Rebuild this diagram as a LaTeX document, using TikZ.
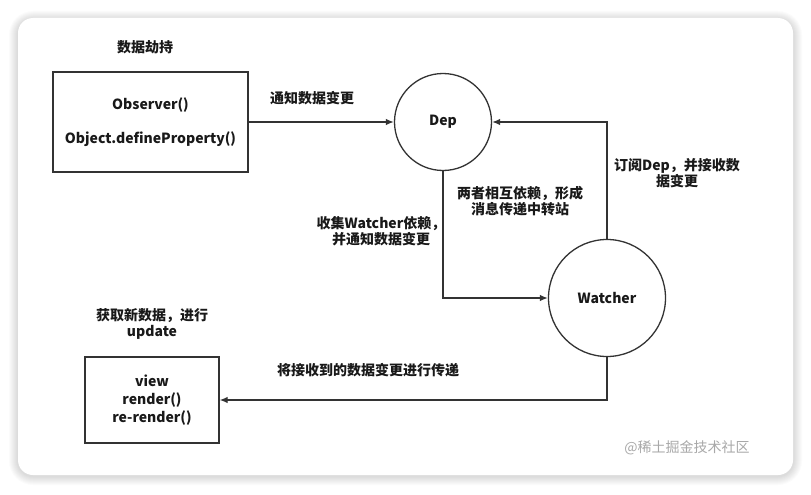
\documentclass[tikz,border=0pt]{standalone}
\usepackage{fontspec}
\setmainfont{Noto Sans CJK SC}
\usetikzlibrary{arrows.meta}
\definecolor{linegray}{HTML}{333333}
\definecolor{markgray}{HTML}{A8A8A8}
\begin{document}
\begin{tikzpicture}[x=1pt, y=-1pt,
	font=\bfseries\fontsize{14}{16.5}\selectfont, text=black!90,
	flowbox/.style={draw=linegray, line width=1.3pt, align=center, inner sep=0pt},
	flowcircle/.style={draw=linegray, line width=1.3pt, circle, inner sep=0pt},
	arr/.style={draw=linegray, line width=1.3pt, -{Latex[length=8pt, width=6.5pt]}},
	note/.style={align=center}]
	
	\useasboundingbox (0,0) rectangle (811,495);
	
	\foreach \i in {1,...,9} %Schatten der Karte
	\fill[black, opacity=0.014, rounded corners={15pt+\i pt}]
	({18-\i},{18-\i+2}) rectangle ({793+\i},{475+\i+1});
	\fill[white, rounded corners=15pt] (18,18) rectangle (793,475); %Karte
	
	\node[flowbox, minimum width=195pt, minimum height=100pt] (observer) at (150.5,122)
	{Observer()\\[18pt]Object.defineProperty()};
	\node[flowcircle, minimum size=97pt] (dep) at (443,122) {Dep};
	\node[flowcircle, minimum size=117pt] (watcher) at (607,298) {Watcher};
	\node[flowbox, minimum width=134pt, minimum height=86pt,
	font=\bfseries\fontsize{14}{18}\selectfont] (view) at (152,400)
	{view\\render()\\re-render()};
	
	\draw[arr] (observer) -- (dep);
	\draw[arr] (watcher.north) |- (dep.east);
	\draw[arr] (dep.south) |- (watcher.west);
	\draw[arr] (watcher.south) |- (view.east);
	
	\node[note] (hijack) at (145,47) {数据劫持}; %Beschriftungen
	\node[note] (notify) at (312,98) {通知数据变更};
	\node[note] (subscribe) at (677,173) {订阅Dep，并接收数\\据变更};
	\node[note] (relay) at (520,201) {两者相互依赖，形成\\消息传递中转站};
	\node[note] (collect) at (381,231) {收集Watcher依赖，\\并通知数据变更};
	\node[note] (update) at (152,324) {获取新数据，进行\\update};
	\node[note] (pass) at (368,370) {将接收到的数据变更进行传递};
	
	\node[markgray, font=\fontsize{14}{16}\selectfont] (mark) at (687,448) {@稀土掘金技术社区};
	
\end{tikzpicture}
\end{document}
